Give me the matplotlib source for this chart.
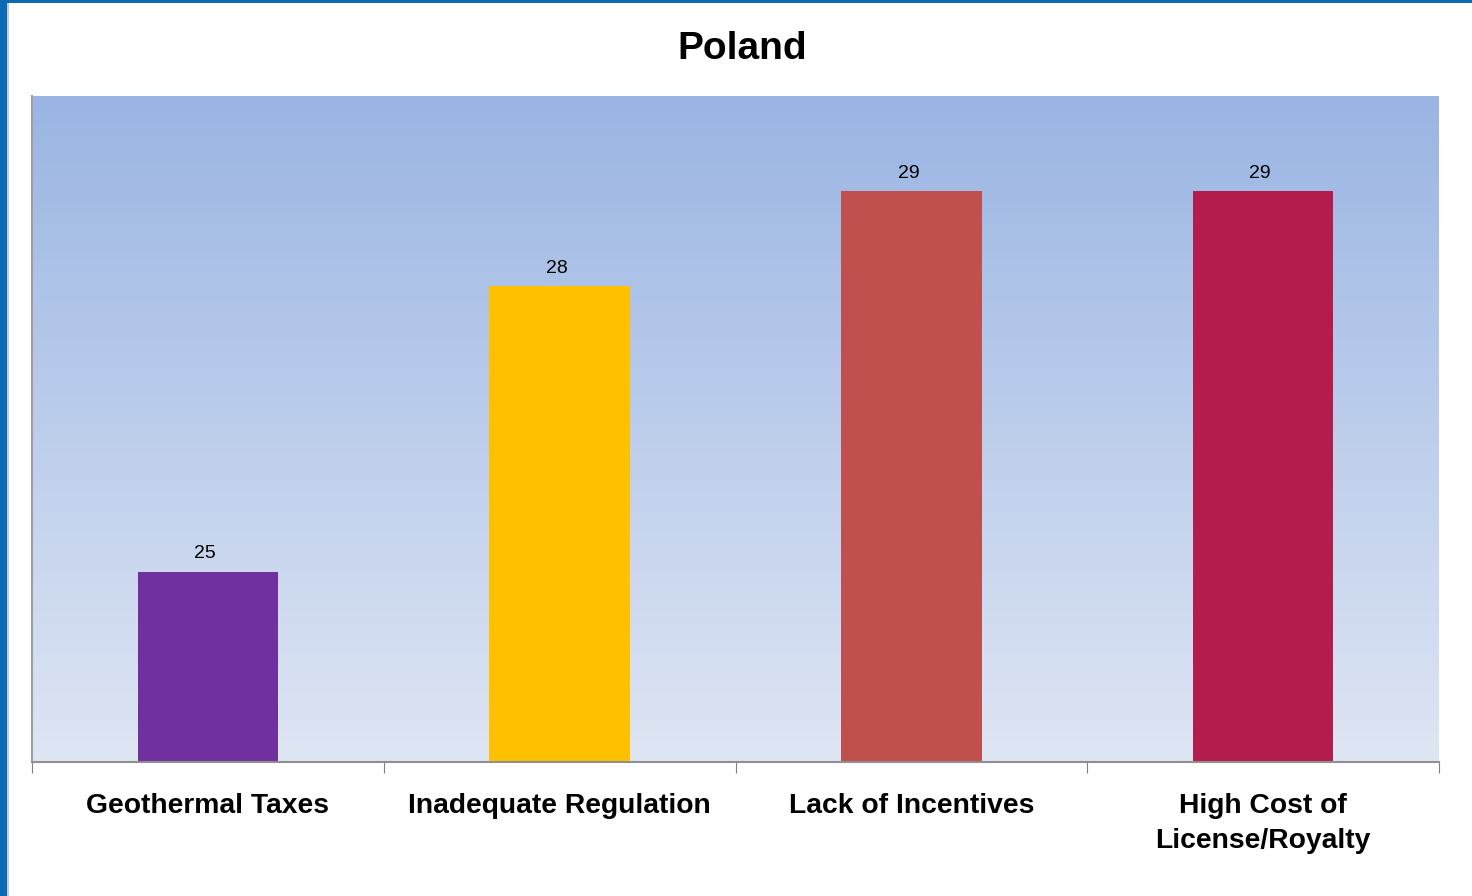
import matplotlib
matplotlib.use("Agg")
import matplotlib.pyplot as plt
import numpy as np
from matplotlib.colors import LinearSegmentedColormap
from matplotlib.patches import Rectangle

categories = ["Geothermal Taxes", "Inadequate Regulation", "Lack of Incentives",
              "High Cost of\nLicense/Royalty"]
values = [25, 28, 29, 29]
colors = ["#7030A0", "#FFC000", "#C0504D", "#B41C4E"]
title = "Poland"

plt.rcParams["font.family"] = ["Liberation Sans", "DejaVu Sans"]

W, H = 1472, 896
fig = plt.figure(figsize=(W / 100, H / 100), dpi=100)
fig.patch.set_facecolor("white")

# slide frame: blue strip on the left and a thin rule across the top
fig.add_artist(Rectangle((0, 0), 7 / W, 1, transform=fig.transFigure,
                         facecolor="#0A6AB8", edgecolor="none", zorder=0))
fig.add_artist(Rectangle((0, 1 - 3 / H), 1, 3 / H, transform=fig.transFigure,
                         facecolor="#0A6AB8", edgecolor="none", zorder=0))
fig.add_artist(Rectangle((7 / W, 0), 2 / W, 1 - 3 / H, transform=fig.transFigure,
                         facecolor="#C8C8C8", edgecolor="none", zorder=0))

left, right, top, bottom = 32, 1439, 96, 762
ax = fig.add_axes([left / W, 1 - bottom / H, (right - left) / W, (bottom - top) / H])

ymin, ymax = 23, 30
x = np.arange(len(categories))
ax.set_xlim(-0.5, len(categories) - 0.5)
ax.set_ylim(ymin, ymax)

# vertical gradient background
cmap = LinearSegmentedColormap.from_list("bg", ["#DFE6F4", "#9AB5E3"])
grad = np.linspace(0, 1, 256).reshape(-1, 1)
ax.imshow(grad, cmap=cmap, aspect="auto", origin="lower",
          extent=[-0.5, len(categories) - 0.5, ymin, ymax], zorder=0)

bars = ax.bar(x, [v - ymin for v in values], bottom=ymin, width=0.4,
              color=colors, zorder=2)
for xi, v in zip(x, values):
    ax.text(xi - 0.008, v + 0.1, f"{v}", ha="center", va="bottom", fontsize=14,
            color="black")

ax.set_yticks([])
ax.set_xticks(np.arange(len(categories) + 1) - 0.5, minor=False)
ax.set_xticklabels([])
ax.tick_params(axis="x", length=8, color="#808080", direction="out")
for xi, lab in zip(x, categories):
    ax.text(xi, -0.046, lab, transform=ax.get_xaxis_transform(), ha="center", va="top",
            fontsize=20.3, fontweight="bold", linespacing=1.45)

for s in ["top", "right"]:
    ax.spines[s].set_visible(False)
ax.spines["bottom"].set_color("#909090")
ax.spines["bottom"].set_linewidth(1.5)
ax.spines["left"].set_color("#A0A0A0")
ax.spines["left"].set_linewidth(1.5)

fig.text(742 / W, 1 - 49 / H, title, ha="center", va="center", fontsize=28,
         fontweight="bold")

fig.savefig("out.png", dpi=100)
